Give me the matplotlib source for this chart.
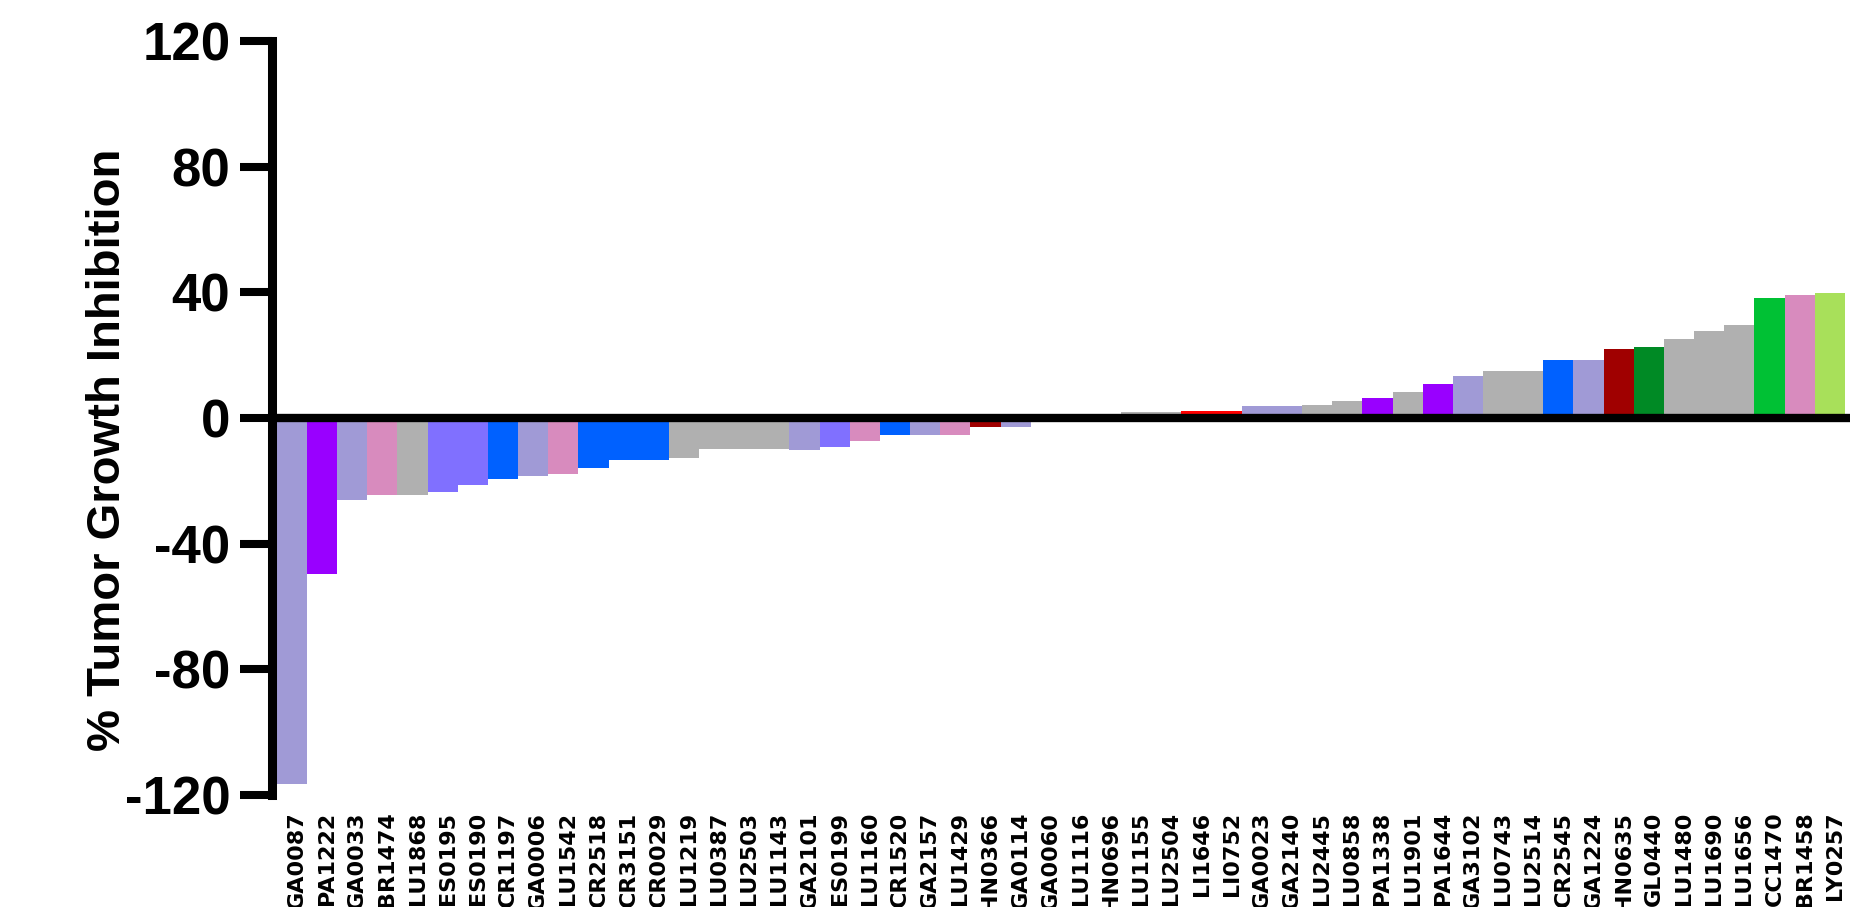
import matplotlib
matplotlib.use("Agg")
import matplotlib.pyplot as plt
import matplotlib.transforms as mtransforms

# tumour models, sorted by response
models = ["GA0087", "PA1222", "GA0033", "BR1474", "LU1868", "ES0195", "ES0190",
          "CR1197", "GA0006", "LU1542", "CR2518", "CR3151", "CR0029", "LU1219",
          "LU0387", "LU2503", "LU1143", "GA2101", "ES0199", "LU1160", "CR1520",
          "GA2157", "LU1429", "HN0366", "GA0114", "GA0060", "LU1116", "HN0696",
          "LU1155", "LU2504", "LI1646", "LI0752", "GA0023", "GA2140", "LU2445",
          "LU0858", "PA1338", "LU1901", "PA1644", "GA3102", "LU0743", "LU2514",
          "CR2545", "GA1224", "HN0635", "GL0440", "LU1480", "LU1690", "LU1656",
          "CC1470", "BR1458", "LY0257"]

tgi = [-116.5, -49.5, -26.2, -24.6, -24.6, -23.7, -21.2,
       -19.5, -18.6, -17.8, -16.0, -13.4, -13.4, -12.6,
       -10.0, -10.0, -10.0, -10.2, -9.1, -7.2, -5.5,
       -5.5, -5.5, -2.9, -2.9, -0.3, 0.3, 0.6,
       1.9, 1.9, 2.3, 2.3, 3.8, 3.8, 4.0,
       5.5, 6.4, 8.2, 10.8, 13.3, 15.0, 15.0,
       18.4, 18.4, 21.9, 22.7, 25.3, 27.8, 29.5,
       38.2, 39.0, 39.8]

# colour group of each bar
groups = ["GA", "PA", "GA", "BR", "LU", "ES", "ES",
          "CR", "GA", "BR", "CR", "CR", "CR", "LU",
          "LU", "LU", "LU", "GA", "ES", "BR", "CR",
          "GA", "BR", "HN", "GA", "GA", "LU", "HN",
          "LU", "LU", "LI", "LI", "GA", "GA", "LU",
          "LU", "PA", "LU", "PA", "GA", "LU", "LU",
          "CR", "GA", "HN", "GL", "LU", "LU", "LU",
          "CC", "BR", "LY"]

palette = {"GA": "#A09AD6", "PA": "#9900FF", "BR": "#D88BBE", "LU": "#B0B0B0",
           "ES": "#8070FF", "CR": "#0061FF", "HN": "#A00000", "LI": "#FF0000",
           "GL": "#008A25", "CC": "#00C134", "LY": "#A8E05A"}

yticks = [-120, -80, -40, 0, 40, 80, 120]

W, H = 1850, 907
fig = plt.figure(figsize=(W / 100, H / 100), dpi=100)
ax = fig.add_axes([272 / W, 1 - 795 / H, (W - 272) / W, (795 - 41) / H])

x = list(range(len(models)))
ax.bar(x, tgi, width=1.0, color=[palette[g] for g in groups], linewidth=0, zorder=2)
ax.axhline(0, color="black", lw=6, zorder=3)

ax.set_xlim(-0.66, len(models) - 0.33)
ax.set_ylim(-120, 120)

for side in ["top", "right", "bottom"]:
    ax.spines[side].set_visible(False)
ax.spines["left"].set_linewidth(6.5)
ax.spines["left"].set_zorder(4)

ax.set_yticks(yticks)
ax.set_yticklabels([str(v) for v in yticks], fontsize=38, fontweight="bold",
                   fontfamily="Liberation Sans")
ax.tick_params(axis="y", length=23, width=5.8, pad=7)

ax.set_xticks(x)
ax.set_xticklabels(models, rotation=90, fontsize=16, fontweight="bold",
                   fontfamily="DejaVu Sans", va="top", ha="center")
ax.tick_params(axis="x", length=0, pad=12)
offset = mtransforms.ScaledTranslation(5 / 100, 0, fig.dpi_scale_trans)
for lbl in ax.get_xticklabels():
    lbl.set_transform(lbl.get_transform() + offset)

fig.text(108 / W, 1 - 450 / H, "% Tumor Growth Inhibition", rotation=90,
         ha="center", va="center", fontsize=34, fontweight="bold",
         fontfamily="Liberation Sans")

fig.savefig("out.png", dpi=100)
